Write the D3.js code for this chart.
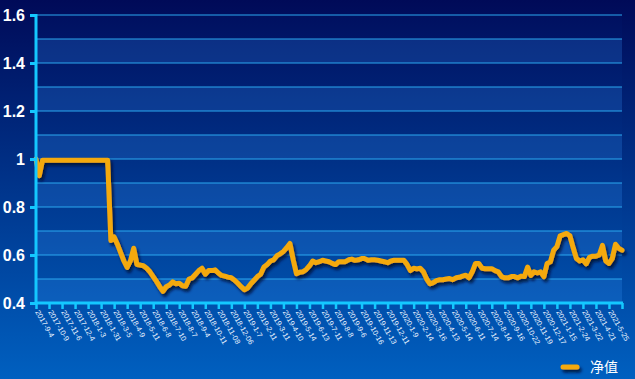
<!DOCTYPE html>
<html><head><meta charset="utf-8">
<script src="https://cdn.jsdelivr.net/npm/d3@7"></script>
<style>html,body{margin:0;padding:0;overflow:hidden;background:#00105e}</style>
</head><body>
<svg id="c" width="635" height="379"></svg>
<script>
const dateLabels = ["2017-9-4","2017-10-9","2017-11-6","2017-12-4","2018-1-3","2018-1-31","2018-3-5","2018-4-9","2018-5-11","2018-6-8","2018-7-10","2018-8-7","2018-9-4","2018-10-11","2018-11-08","2018-12-06","2019-1-7","2019-2-11","2019-3-11","2019-4-10","2019-5-14","2019-6-13","2019-7-11","2019-8-8","2019-9-6","2019-10-16","2019-11-13","2019-12-11","2020-1-9","2020-2-14","2020-3-16","2020-4-13","2020-5-14","2020-6-11","2020-7-14","2020-8-14","2020-9-16","2020-10-22","2020-11-19","2020-12-17","2021-1-15","2021-2-24","2021-3-22","2021-4-21","2021-5-25"];
const pointsPerLabel = 4;
const navValues = [
1.0,0.93,0.995,0.995,0.995,0.995,0.995,0.995,0.995,0.995,
0.995,0.995,0.995,0.995,0.995,0.995,0.995,0.995,0.995,0.995,
0.995,0.995,0.995,0.66,0.675,0.645,0.61,0.575,0.548,0.575,
0.628,0.56,0.558,0.555,0.545,0.53,0.51,0.49,0.468,0.449,
0.468,0.475,0.488,0.48,0.482,0.472,0.47,0.5,0.505,0.52,
0.535,0.545,0.52,0.535,0.535,0.538,0.525,0.515,0.512,0.508,
0.505,0.495,0.482,0.468,0.455,0.462,0.48,0.495,0.51,0.52,
0.55,0.56,0.575,0.58,0.597,0.605,0.615,0.63,0.648,0.58,
0.522,0.528,0.53,0.54,0.555,0.575,0.568,0.572,0.578,0.575,
0.572,0.565,0.56,0.572,0.572,0.572,0.58,0.583,0.578,0.58,
0.585,0.585,0.578,0.58,0.58,0.578,0.575,0.572,0.568,0.575,
0.578,0.578,0.578,0.578,0.56,0.535,0.545,0.542,0.545,0.53,
0.5,0.48,0.485,0.493,0.497,0.497,0.5,0.502,0.497,0.505,
0.507,0.512,0.516,0.505,0.53,0.565,0.565,0.545,0.543,0.543,
0.543,0.535,0.53,0.51,0.505,0.505,0.51,0.51,0.505,0.512,
0.51,0.55,0.515,0.53,0.525,0.53,0.51,0.565,0.572,0.62,
0.635,0.68,0.685,0.69,0.68,0.63,0.585,0.575,0.58,0.563,
0.59,0.595,0.595,0.6,0.64,0.575,0.565,0.585,0.645,0.628,
0.62];
const yTicks = [0.4,0.6,0.8,1.0,1.2,1.4,1.6];
const seriesName = "净值";

const svg = d3.select("#c");
const W = 635, H = 379;
const m = {l:36, r:13, t:15, b:76};
const x = d3.scaleLinear().domain([0, dateLabels.length]).range([m.l, W - m.r]);
const y = d3.scaleLinear().domain([0.4, 1.6]).range([H - m.b, m.t]);

const defs = svg.append("defs");
const bg = defs.append("linearGradient").attr("id","bg").attr("x1",0).attr("y1",0).attr("x2",0).attr("y2",1);
bg.append("stop").attr("offset",0).attr("stop-color","#000a58");
bg.append("stop").attr("offset",1).attr("stop-color","#0060c0");
const pg = defs.append("linearGradient").attr("id","pg").attr("x1",0).attr("y1",0).attr("x2",0).attr("y2",1);
pg.append("stop").attr("offset",0).attr("stop-color","#001060");
pg.append("stop").attr("offset",1).attr("stop-color","#0050ac");
const f = defs.append("filter").attr("id","sh").attr("filterUnits","userSpaceOnUse")
  .attr("x",0).attr("y",0).attr("width",W).attr("height",H);
f.append("feDropShadow").attr("dx",2).attr("dy",3).attr("stdDeviation",1.6).attr("flood-color","#000833").attr("flood-opacity",0.85);

svg.append("rect").attr("width",W).attr("height",H).attr("fill","url(#bg)");
svg.append("rect").attr("x",x(0)).attr("y",y(1.6)).attr("width",x(dateLabels.length)-x(0)).attr("height",y(0.4)-y(1.6)).attr("fill","url(#pg)");

// light bands
const bands = d3.range(0, 12).filter(i => i % 2 === 0).map(i => 0.4 + i*0.1);
svg.append("g").selectAll("rect").data(bands).join("rect")
  .attr("x", x(0)).attr("width", x(dateLabels.length)-x(0))
  .attr("y", d => y(d+0.1)).attr("height", d => y(d)-y(d+0.1))
  .attr("fill","#3d9cff").attr("fill-opacity",0.2);

// gridlines
const grid = d3.range(0, 13).map(i => +(0.4 + i*0.1).toFixed(1));
svg.append("g").selectAll("line").data(grid).join("line")
  .attr("x1", x(0)).attr("x2", x(dateLabels.length))
  .attr("y1", d => y(d)).attr("y2", d => y(d))
  .attr("stroke","#2aa8f0").attr("stroke-width",1.2);

// line
const line = d3.line().x((d,i) => x(i/pointsPerLabel)).y(d => y(d)).curve(d3.curveLinear);
svg.append("path").datum(navValues).attr("d", line)
  .attr("fill","none").attr("stroke","#f4a90a").attr("stroke-width",5)
  .attr("stroke-linejoin","round").attr("stroke-linecap","round").attr("filter","url(#sh)");

// y axis
const yAxis = svg.append("g").attr("transform",`translate(${m.l},0)`)
  .call(d3.axisLeft(y).tickValues(yTicks).tickSize(6).tickPadding(5).tickFormat(d => d3.format("~g")(d)));
yAxis.select(".domain").attr("stroke","#14c8ff").attr("stroke-width",3).attr("d",`M0,${y(1.6)-1}V${y(0.4)+1}`);
yAxis.selectAll(".tick line").attr("stroke","#14c8ff").attr("stroke-width",3);
yAxis.selectAll(".tick text").attr("fill","#ffffff").attr("font-family","Liberation Sans, Arial, sans-serif")
  .attr("font-weight","bold").attr("font-size",16);

// x axis
const tickIdx = d3.range(0, dateLabels.length + 1);
const xAxis = svg.append("g").attr("transform",`translate(0,${y(0.4)})`)
  .call(d3.axisBottom(x).tickValues(tickIdx).tickSize(6).tickFormat(""));
xAxis.select(".domain").attr("stroke","#14c8ff").attr("stroke-width",3).attr("d",`M${x(0)},0H${x(dateLabels.length)+1}`);
xAxis.selectAll(".tick line").attr("stroke","#14c8ff").attr("stroke-width",2.5);

svg.append("g").selectAll("text").data(dateLabels).join("text")
  .attr("transform",(d,i) => `translate(${x(i)-1},${y(0.4)+9}) rotate(60)`)
  .attr("fill","#e8f2ff").attr("font-family","Liberation Sans, Arial, sans-serif")
  .attr("font-size",7.5).attr("text-anchor","start").text(d => d);

// legend
const lg = svg.append("g");
lg.append("line").attr("x1",563).attr("x2",577).attr("y1",367).attr("y2",367)
  .attr("stroke","#f4a90a").attr("stroke-width",5).attr("stroke-linecap","round").attr("filter","url(#sh)");
lg.append("text").attr("x",590).attr("y",372).attr("fill","#ffffff")
  .attr("font-family","Noto Sans CJK SC, sans-serif").attr("font-size",14).text(seriesName);
</script>
</body></html>
